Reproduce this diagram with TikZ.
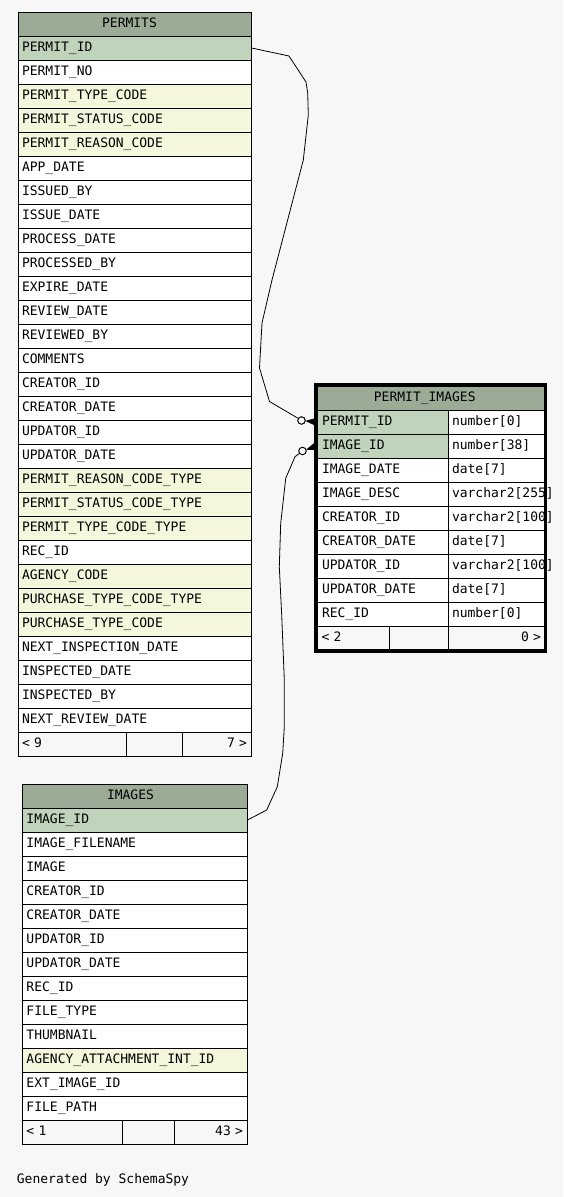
\documentclass[tikz,border=0pt]{standalone}
\usepackage{fontspec}
\usetikzlibrary{calc}
\newfontfamily\cellfont{DejaVu Sans Mono}
\definecolor{pagebg}{HTML}{F7F7F7}
\definecolor{hdrbg}{HTML}{9BAB96}
\definecolor{pkbg}{HTML}{BFD4BB}
\definecolor{fkbg}{HTML}{F4F7DC}
\tikzset{
  cell/.style={draw=black, line width=1pt, anchor=north west, minimum height=24pt,
    inner xsep=4pt, inner ysep=0pt, text height=9.5pt, text depth=2pt,
    font=\cellfont\fontsize{13pt}{15pt}\selectfont, align=left, fill=white},
  rowplain/.style={fill=white},
  rowpk/.style={fill=pkbg},
  rowfk/.style={fill=fkbg},
  hdr/.style={fill=hdrbg, align=center},
  foot/.style={fill=pagebg},
  conn/.style={draw=black, line width=0.8pt},
  opt/.style={circle, draw=black, fill=white, inner sep=0pt, minimum size=7.5pt, line width=1pt},
}
\begin{document}
\begin{tikzpicture}[x=1pt,y=-1pt]
\fill[pagebg] (0,0) rectangle (563,1197);
\useasboundingbox (0,0) rectangle (563,1197);

% ---------------- PERMITS ----------------
\node[cell,hdr,text width=225pt] (ph) at (17.5,11.5) {PERMITS\rule{10pt}{0pt}};
\foreach \t/\s [count=\i] in {
  PERMIT\_ID/rowpk, PERMIT\_NO/rowplain, PERMIT\_TYPE\_CODE/rowfk,
  PERMIT\_STATUS\_CODE/rowfk, PERMIT\_REASON\_CODE/rowfk, APP\_DATE/rowplain,
  ISSUED\_BY/rowplain, ISSUE\_DATE/rowplain, PROCESS\_DATE/rowplain,
  PROCESSED\_BY/rowplain, EXPIRE\_DATE/rowplain, REVIEW\_DATE/rowplain,
  REVIEWED\_BY/rowplain, COMMENTS/rowplain, CREATOR\_ID/rowplain,
  CREATOR\_DATE/rowplain, UPDATOR\_ID/rowplain, UPDATOR\_DATE/rowplain,
  PERMIT\_REASON\_CODE\_TYPE/rowfk, PERMIT\_STATUS\_CODE\_TYPE/rowfk,
  PERMIT\_TYPE\_CODE\_TYPE/rowfk, REC\_ID/rowplain, AGENCY\_CODE/rowfk,
  PURCHASE\_TYPE\_CODE\_TYPE/rowfk, PURCHASE\_TYPE\_CODE/rowfk,
  NEXT\_INSPECTION\_DATE/rowplain, INSPECTED\_DATE/rowplain,
  INSPECTED\_BY/rowplain, NEXT\_REVIEW\_DATE/rowplain} {
  \pgfmathsetmacro\yy{11.5+24*\i}
  \node[cell,\s,text width=225pt] (p\i) at (17.5,\yy) {\t};
}
\node[cell,foot,text width=100pt] (pf1) at (17.5,731.5) {<~9};
\node[cell,foot,text width=48pt] (pf2) at (125.5,731.5) {};
\node[cell,foot,text width=61pt,align=right] (pf3) at (181.5,731.5) {7~>};

% ---------------- IMAGES ----------------
\node[cell,hdr,text width=217pt] (ih) at (21.5,783.5) {IMAGES\rule{8pt}{0pt}};
\foreach \t/\s [count=\i] in {
  IMAGE\_ID/rowpk, IMAGE\_FILENAME/rowplain, IMAGE/rowplain,
  CREATOR\_ID/rowplain, CREATOR\_DATE/rowplain, UPDATOR\_ID/rowplain,
  UPDATOR\_DATE/rowplain, REC\_ID/rowplain, FILE\_TYPE/rowplain,
  THUMBNAIL/rowplain, AGENCY\_ATTACHMENT\_INT\_ID/rowfk,
  EXT\_IMAGE\_ID/rowplain, FILE\_PATH/rowplain} {
  \pgfmathsetmacro\yy{783.5+24*\i}
  \node[cell,\s,inner xsep=4.5pt,text width=216pt] (i\i) at (21.5,\yy) {\t};
}
\node[cell,foot,inner xsep=4.5pt,text width=91pt] (if1) at (21.5,1119.5) {<~1};
\node[cell,foot,text width=44pt] (if2) at (121.5,1119.5) {};
\node[cell,foot,text width=65pt,align=right] (if3) at (173.5,1119.5) {43~>};

% ---------------- PERMIT_IMAGES ----------------
\node[cell,hdr,text width=220.5pt] (pih) at (316,385.5) {PERMIT\_IMAGES\rule{12pt}{0pt}};
\foreach \t/\ty/\s [count=\i] in {
  PERMIT\_ID/{number[0]}/rowpk, IMAGE\_ID/{number[38]}/rowpk,
  IMAGE\_DATE/{date[7]}/rowplain, IMAGE\_DESC/{varchar2[255]}/rowplain,
  CREATOR\_ID/{varchar2[100]}/rowplain, CREATOR\_DATE/{date[7]}/rowplain,
  UPDATOR\_ID/{varchar2[100]}/rowplain, UPDATOR\_DATE/{date[7]}/rowplain,
  REC\_ID/{number[0]}/rowplain} {
  \pgfmathsetmacro\yy{385.5+24*\i}
  \node[cell,\s,inner xsep=5.5pt,text width=120.5pt] (pi\i) at (316,\yy) {\t};
  \node[cell,rowplain,text width=89pt] (pt\i) at (447.5,\yy) {\ty};
}
\node[cell,foot,inner xsep=5pt,text width=62.5pt] (pif1) at (316,625.5) {<~2};
\node[cell,foot,text width=51pt] (pif2) at (388.5,625.5) {};
\node[cell,foot,inner xsep=4pt,text width=89pt,align=right] (pif3) at (447.5,625.5) {0~>};
\draw[line width=3.5pt] (pih.north west) ++(0,-1) rectangle ($(pif3.south east)+(0,0.5)$);

% ---------------- connectors ----------------
\node[opt] (c1) at (301.5,420.5) {};
\node[opt] (c2) at (302.5,451) {};
\draw[conn] (p1.east) -- (289,56) -- (306,82) -- (307.7,93) -- (308.3,115)
  -- (303.3,160) -- (272,280) -- (262,323) -- (259.5,368) -- (269.5,401.5)
  -- (295,416.5) -- (c1);
\fill ($(c1)!3.75pt!(pi1.west)$) -- ([yshift=-4pt]pi1.west) -- ([yshift=4pt]pi1.west) -- cycle;
\draw[conn] (i1.east) -- (266.7,810) -- (277.3,786.7) -- (282.7,753.3)
  -- (284.3,726.7) -- (284.3,680) -- (281.7,615) -- (279.3,566.7)
  -- (280.7,523.3) -- (285.7,478.3) -- (295,456.7) -- (c2);
\fill ($(c2)!3.75pt!(pi2.west)$) -- ([yshift=4.5pt]pi2.west) -- ([yshift=-4pt]pi2.west) -- cycle;

% ---------------- footer text ----------------
\node[anchor=base west, inner sep=0pt, font=\cellfont\fontsize{13pt}{15pt}\selectfont] (gen) at (16.7,1183) {Generated by SchemaSpy};
\end{tikzpicture}
\end{document}
